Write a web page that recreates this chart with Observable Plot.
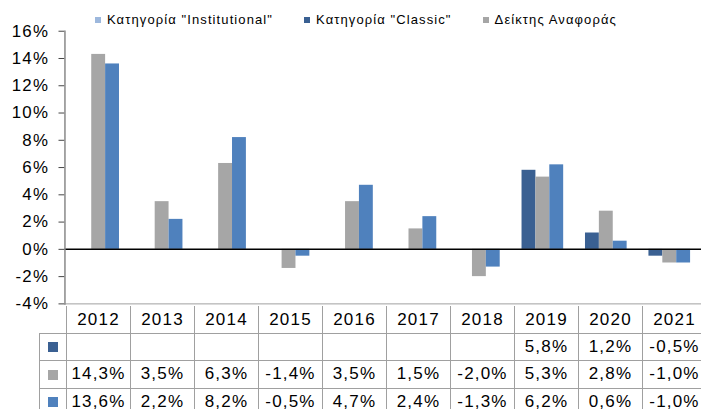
<!DOCTYPE html>
<html><head><meta charset="utf-8">
<script src="https://cdn.jsdelivr.net/npm/d3@7"></script>
<script src="https://cdn.jsdelivr.net/npm/@observablehq/plot@0.6"></script>
<style>
html,body{margin:0;padding:0;background:#fff;overflow:hidden;}
#wrap{position:relative;width:701px;height:409px;overflow:hidden;font-family:"Liberation Sans",Arial,sans-serif;color:#000;}
#wrap svg{position:absolute;left:0;top:0;}
.legend{position:absolute;left:95px;top:13px;display:flex;align-items:center;font-size:13px;line-height:13px;letter-spacing:1.1px;white-space:nowrap;}
.legend .item{display:flex;align-items:center;margin-right:31px;}
.legend .sw{width:6px;height:6px;margin-right:6px;}
.cell{position:absolute;display:flex;align-items:center;justify-content:center;font-size:17px;letter-spacing:1.2px;white-space:nowrap;}
.ln{position:absolute;background:#a0a0a0;}
</style></head><body><div id="wrap"></div>
<script>
const years = ["2012","2013","2014","2015","2016","2017","2018","2019","2020","2021"];
const seriesNames = ['Κατηγορία "Classic"', "Δείκτης Αναφοράς", 'Κατηγορία "Institutional"'];
const classicValues = [null,null,null,null,null,null,null,5.8,1.2,-0.5];
const benchmarkValues = [14.3,3.5,6.3,-1.4,3.5,1.5,-2.0,5.3,2.8,-1.0];
const institutionalValues = [13.6,2.2,8.2,-0.5,4.7,2.4,-1.3,6.2,0.6,-1.0];
const seriesColors = ["#3a6092","#a6a6a6","#4f81bd"];
const legendNames = ['Κατηγορία "Institutional"', 'Κατηγορία "Classic"', "Δείκτης Αναφοράς"];
const legendColors = ["#9db8dd","#3a6092","#a6a6a6"];
const yTicks = [-4,-2,0,2,4,6,8,10,12,14,16];

const seriesValues = [classicValues, benchmarkValues, institutionalValues];
const data = [];
years.forEach((yr, i) => {
  seriesValues.forEach((vals, s) => {
    if (vals[i] != null) data.push({year: yr, series: seriesNames[s], value: vals[i]});
  });
});

const wrap = document.getElementById("wrap");
const common = {
  width: 707, height: 409,
  marginLeft: 65, marginRight: 0, marginTop: 31, marginBottom: 103,
  style: {fontFamily: '"Liberation Sans", Arial, sans-serif', fontSize: "17px", color: "#000", letterSpacing: "1.2px", background: "transparent"},
  y: {domain: [-4, 16], axis: null, label: null}
};

// bars (faceted by year)
const plot = Plot.plot({
  ...common,
  fx: {domain: years, paddingInner: 0.33, paddingOuter: 0.165, axis: null, label: null},
  x: {domain: seriesNames, padding: 0, axis: null, label: null},
  color: {domain: seriesNames, range: seriesColors},
  marks: [
    Plot.barY(data, {fx: "year", x: "series", y: "value", fill: "series", inset: 0})
  ]
});
wrap.appendChild(plot);

// axis, zero line, frame (same y scale, overlaid)
const axes = Plot.plot({
  ...common,
  marks: [
    Plot.ruleY([-4], {stroke: "#a0a0a0", strokeWidth: 1}),
    Plot.ruleY([0], {stroke: "#000", strokeWidth: 1.5}),
    Plot.axisY({ticks: yTicks, tickFormat: d => `${d}%`, tickSize: 6, tickPadding: 10, fontSize: 17, stroke: "#444", fill: "#000", label: null}),
    Plot.frame({anchor: "left", stroke: "#888", strokeWidth: 1.5})
  ]
});
wrap.appendChild(axes);

// legend
const legend = d3.select(wrap).append("div").attr("class", "legend");
legendNames.forEach((n, i) => {
  const it = legend.append("div").attr("class", "item");
  it.append("div").attr("class", "sw").style("background", legendColors[i]);
  it.append("span").text(n);
});

// data table aligned with the fx scale
const fxs = plot.scale("fx");
const bw = fxs.bandwidth;
const step = fxs.step || bw / (1 - 0.33);
const colLeft = yr => fxs.apply(yr) + bw / 2 - step / 2;
const tableTop = plot.scale("y").apply(-4);
const rowH = 27.4;
const leftEdge = 39;
const W = d3.select(wrap);
const fmt = v => v == null ? "" : v.toFixed(1).replace(".", ",") + "%";

years.forEach(yr => {
  W.append("div").attr("class", "ln").style("left", (colLeft(yr) - 0.5) + "px").style("top", tableTop + "px").style("width", "1px").style("height", (409 - tableTop) + "px");
});
W.append("div").attr("class", "ln").style("left", (colLeft(years[years.length-1]) + step - 0.5) + "px").style("top", tableTop + "px").style("width", "1px").style("height", (409 - tableTop) + "px");
W.append("div").attr("class", "ln").style("left", (leftEdge - 0.5) + "px").style("top", (tableTop + rowH) + "px").style("width", "1px").style("height", (409 - tableTop - rowH) + "px");
for (let r = 1; r <= 3; r++) {
  W.append("div").attr("class", "ln").style("left", leftEdge + "px").style("top", (tableTop + r * rowH - 0.5) + "px").style("width", (707 - leftEdge) + "px").style("height", "1px");
}
years.forEach(yr => {
  W.append("div").attr("class", "cell").style("left", colLeft(yr) + "px").style("top", tableTop + "px").style("width", step + "px").style("height", rowH + "px").text(yr);
});
seriesValues.forEach((vals, s) => {
  const top = tableTop + (s + 1) * rowH;
  W.append("div").style("position", "absolute").style("left", "48px").style("top", (top + rowH / 2 - 5) + "px").style("width", "10px").style("height", "10px").style("background", seriesColors[s]);
  years.forEach((yr, i) => {
    W.append("div").attr("class", "cell").style("left", colLeft(yr) + "px").style("top", top + "px").style("width", step + "px").style("height", rowH + "px").text(fmt(vals[i]));
  });
});
</script></body></html>
